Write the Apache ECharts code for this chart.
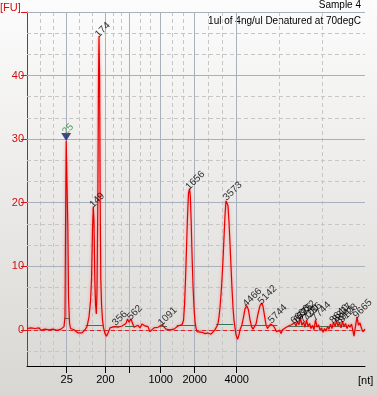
<!DOCTYPE html>
<html>
<head>
<meta charset="utf-8">
<title>Sample 4</title>
<script src="https://cdn.jsdelivr.net/npm/echarts@6/dist/echarts.min.js"></script>
<style>
    html, body { margin: 0; padding: 0; }
    #chart { width: 377px; height: 396px; }
</style>
</head>
<body>
<div id="chart"></div>
<script>
// migration time [s] and fluorescence [FU]
var traceTime = [19.00, 19.30, 19.60, 19.90, 20.20, 20.50, 20.80, 21.10, 21.40, 21.70, 22.00, 22.30, 22.60, 22.90,
    23.20, 23.50, 23.80, 24.10, 24.40, 24.55, 24.70, 24.78, 24.88, 25.00, 25.12, 25.23, 25.38, 25.53, 25.75, 26.05,
    26.35, 26.65, 26.95, 27.25, 27.55, 27.70, 28.00, 28.30, 28.53, 28.68, 28.83, 28.95, 29.05, 29.17, 29.28, 29.40,
    29.50, 29.62, 29.73, 29.80, 29.89, 29.98, 30.07, 30.18, 30.33, 30.48, 30.70, 30.93, 31.15, 31.45, 31.75, 32.05,
    32.35, 32.65, 32.95, 33.25, 33.55, 33.85, 34.08, 34.30, 34.60, 34.83, 35.05, 35.35, 35.65, 35.95, 36.25, 36.70,
    37.15, 37.45, 37.75, 38.05, 38.35, 38.65, 38.95, 39.25, 39.55, 39.85, 40.15, 40.45, 40.75, 41.05, 41.35, 41.65,
    41.95, 42.25, 42.48, 42.63, 42.78, 42.93, 43.08, 43.23, 43.38, 43.50, 43.63, 43.75, 43.90, 44.05, 44.20, 44.35,
    44.50, 44.80, 45.25, 45.70, 46.15, 46.60, 46.90, 47.20, 47.50, 47.65, 47.80, 47.95, 48.10, 48.25, 48.40, 48.55,
    48.70, 48.85, 49.00, 49.15, 49.30, 49.45, 49.60, 49.75, 49.90, 50.05, 50.20, 50.35, 50.58, 50.80, 50.95, 51.10,
    51.25, 51.48, 51.70, 51.96, 52.20, 52.45, 52.68, 52.90, 53.13, 53.35, 53.65, 53.95, 54.21, 54.40, 54.63, 54.85,
    55.08, 55.30, 55.53, 55.75, 55.98, 56.20, 56.43, 56.65, 56.88, 57.10, 57.33, 57.55, 57.78, 58.00, 58.23, 58.45,
    58.68, 58.90, 59.13, 59.35, 59.58, 59.80, 60.03, 60.25, 60.48, 60.70, 60.93, 61.15, 61.38, 61.60, 61.83, 62.05,
    62.28, 62.50, 62.73, 62.95, 63.18, 63.40, 63.63, 63.85, 64.08, 64.30, 64.53, 64.75, 64.98, 65.20, 65.43, 65.65,
    65.88, 66.10, 66.33, 66.55, 66.78, 67.00, 67.23, 67.45, 67.68, 67.90, 68.05, 68.28, 68.50, 68.73, 68.95, 69.18,
    69.40, 69.55, 69.70];
var traceFU = [0.2, 0.1, 0.3, 0.0, 0.2, 0.1, 0.3, -0.1, 0.2, 0.1, 0.3, 0.0, 0.2, 0.1,
    0.2, -0.1, 0.2, 0.1, 0.2, 0.5, 2.0, 16, 29.7, 29.5, 16.5, 5, 1, 0.2, -0.1, 0.0,
    -0.3, -0.5, -0.6, -0.5, -0.2, 0.0, 0.5, 2.0, 4.5, 8, 16, 19.4, 17, 8, 4, 2.5,
    6, 20, 40, 46.2, 40, 20, 8, 4, 1.5, 0.3, -0.6, -1.0, -0.5, 0.3, 0.2, 0.5,
    0.8, 0.4, 0.3, 0.6, 0.9, 1.0, 1.7, 1.2, 1.7, 1.6, 0.4, 0.2, 0.7, 0.3, 0.9, 0.6,
    0.5, -0.3, -0.2, 0.3, 0.1, 0.4, 0.3, 0.8, 0.6, 0.1, 0.3, 0.0, 0.2, 0.1, 0.4, 0.6,
    0.5, 0.8, 1.5, 4, 8, 13, 18, 21.5, 22.2, 21, 17, 12, 7, 3.5, 1.3, 0.3,
    -0.3, -0.5, -0.4, -0.6, -0.5, -0.7, -0.4, 0.0, 0.6, 1.0, 2, 3.5, 5.5, 8, 11, 14.5,
    18, 20.3, 20.5, 19.5, 17, 13.5, 10, 6.5, 3.5, 1.5, 0.3, -0.8, -1.5, -0.8, 0.0, 0.3,
    0.8, 2, 3.3, 3.8, 3.2, 1.6, 0.5, 0.1, 0.2, 0.9, 2.5, 3.8, 4.2, 3.7, 2.2, 0.8,
    0.2, 0.3, 0.9, 1.2, 0.6, 0.2, -0.3, -0.5, -0.1, -0.6, 0.0, -0.2, 0.3, 0.1, 0.6, 0.3,
    0.8, 0.5, 1.1, 0.6, 1.3, 0.8, 1.8, 0.7, 1.2, 0.4, 1.5, 0.5, 1.0, 0.2, 0.7, 0.0,
    1.6, 0.4, 0.8, -0.1, 0.3, -0.4, 0.2, -0.2, 0.5, 0.1, 0.9, 0.2, 1.2, 0.5, 1.4, 0.6,
    1.1, 0.3, 1.3, 0.5, 1.0, 0.2, 0.8, 0.4, 0.9, -0.2, -1.0, 0.6, 2.0, 0.7, 1.1, 0.2,
    -0.3, -0.6, 0.1];

// called peaks: time, height, size [nt]
var peakTime = [28.95, 29.80, 32.35, 34.60, 39.25, 43.38, 49.00, 51.96, 54.21, 55.75,
    59.13, 59.58, 60.03, 60.48, 60.93, 62.28, 64.98, 65.43, 65.88, 66.33, 68.50];
var peakFU = [19.4, 46.2, 0.8, 1.7, 0.8, 22.2, 20.5, 3.8, 4.2, 1.2,
    1.1, 1.3, 1.8, 1.2, 1.5, 1.6, 1.2, 1.4, 1.1, 1.3, 2.0];
var peakSize = ['149', '174', '356', '562', '1091', '1656', '3573', '4466', '5142', '5744',
    '6606', '6775', '6932', '7100', '7286', '7744', '8640', '8827', '8941', '9128', '9665'];

// lower marker
var markerTime = [24.88];
var markerFU = [29.7];
var markerSize = ['25'];

// peak integration baselines
var baseStart = [24.55, 27.80, 31.90, 33.70, 38.95, 41.45, 47.35, 51.10, 52.90, 55.20, 58.15, 61.75];
var baseEnd = [25.30, 30.45, 32.95, 35.20, 40.00, 44.30, 49.95, 52.90, 55.20, 56.55, 62.95, 67.00];
var baseLevel = [1.8, 0.7, 0.6, 0.6, 0.6, 0.7, 0.8, 0.7, 0.7, 0.7, 0.6, 0.6];

// ladder ticks
var xTickPos = [24.96, 30.75, 34.35, 39.06, 44.16, 50.46];
var xTickLabel = ['25', '200', '', '1000', '2000', '4000'];
var yTickPos = [0, 10, 20, 30, 40, 50];
var yTickLabel = ['0', '10', '20', '30', '40', ''];

(function (window, echarts) {
    "use strict";

    var FONT = '"Liberation Sans Narrow", "Liberation Sans", Arial, sans-serif';
    var xMin = 19, xMax = 69.7, yMin = -5.7, yMax = 50;

    var zip = function (xs, ys) {
        return xs.map(function (x, i) { return [x, ys[i]]; });
    };

    /**
     * 两条主网格线之间插两条虚线
     */
    var thirds = function (edges) {
        var out = [];
        for (var i = 0; i < edges.length - 1; i++) {
            var a = edges[i], b = edges[i + 1];
            out.push(a + (b - a) / 3, a + 2 * (b - a) / 3);
        }
        return out;
    };

    var lookup = function (pos, labels, v) {
        for (var i = 0; i < pos.length; i++) {
            if (Math.abs(pos[i] - v) < 1e-6) return labels[i];
        }
        return '';
    };

    var xMinor = thirds([xMin].concat(xTickPos, [xMax]));
    var yMinor = thirds([-10].concat(yTickPos)).filter(function (v) { return v > yMin; });

    var solidGrid = { color: '#a9b1bd', width: 1, type: 'solid' };
    var dashGrid = { color: '#c6c6c6', width: 1, type: [4, 3] };

    var gridLines = []
        .concat(xMinor.map(function (v) { return { xAxis: v, lineStyle: dashGrid }; }))
        .concat(yMinor.map(function (v) { return { yAxis: v, lineStyle: dashGrid }; }))
        .concat(xTickPos.map(function (v) { return { xAxis: v, lineStyle: solidGrid }; }))
        .concat(yTickPos.map(function (v) { return { yAxis: v, lineStyle: solidGrid }; }));

    var baseLines = baseStart.map(function (s, i) {
        return [{ coord: [s, baseLevel[i]] }, { coord: [baseEnd[i], baseLevel[i]] }];
    });

    var chart = echarts.init(document.getElementById('chart'));

    var option = {
        animation: false,
        backgroundColor: new echarts.graphic.LinearGradient(0, 0, 0, 1, [
            { offset: 0, color: '#fcfcfc' },
            { offset: 1, color: '#d9d7d3' }
        ]),
        grid: { left: 27, top: 12, right: 12, bottom: 30 },
        graphic: [
            { type: 'text', left: 0, top: 2, style: { text: '[FU]', fill: '#cc1111', font: '11px ' + FONT } },
            { type: 'text', left: 358, top: 375, style: { text: '[nt]', fill: '#000', font: '11px ' + FONT } },
            { type: 'text', right: 16, top: 0, style: { text: 'Sample 4', fill: '#000', font: '10px ' + FONT } },
            { type: 'text', right: 16, top: 16, style: { text: '1ul of 4ng/ul Denatured at 70degC', fill: '#000', font: '10px ' + FONT } }
        ],
        xAxis: {
            type: 'value',
            min: xMin,
            max: xMax,
            splitLine: { show: false },
            axisLine: { onZero: false, lineStyle: { color: '#000', width: 1 } },
            axisTick: { customValues: xTickPos, length: 7, lineStyle: { color: '#000' } },
            axisLabel: {
                customValues: xTickPos,
                margin: 8,
                color: '#000',
                fontSize: 11,
                fontFamily: FONT,
                formatter: function (v) { return lookup(xTickPos, xTickLabel, v); }
            }
        },
        yAxis: {
            type: 'value',
            min: yMin,
            max: yMax,
            splitLine: { show: false },
            axisLine: { show: true, onZero: false, lineStyle: { color: '#dd1111', width: 1 } },
            axisTick: { show: true, customValues: yTickPos, length: 6, lineStyle: { color: '#dd1111' } },
            axisLabel: {
                customValues: yTickPos,
                margin: 3,
                color: '#cc1111',
                fontSize: 11,
                fontFamily: FONT,
                formatter: function (v) { return lookup(yTickPos, yTickLabel, v); }
            }
        },
        series: [
            {
                // 网格
                type: 'line',
                data: [],
                z: 1,
                silent: true,
                markLine: { z: 1, silent: true, symbol: 'none', label: { show: false }, data: gridLines }
            },
            {
                // 峰基线 + 零线
                type: 'line',
                data: [],
                z: 2,
                silent: true,
                markLine: {
                    z: 2,
                    silent: true,
                    symbol: 'none',
                    label: { show: false },
                    lineStyle: { color: '#2f7a52', width: 1, type: 'solid' },
                    data: [[{ coord: [xMin, 0] }, { coord: [xMax, 0] }]].map(function (seg) {
                        seg[0].lineStyle = { color: '#e02020', type: [4, 3], width: 1 };
                        return seg;
                    }).concat(baseLines)
                }
            },
            {
                name: 'trace',
                type: 'line',
                z: 3,
                showSymbol: false,
                data: zip(traceTime, traceFU),
                lineStyle: {
                    color: '#e80000',
                    width: 1.2,
                    shadowColor: 'rgba(255,90,90,0.7)',
                    shadowBlur: 3
                }
            },
            {
                name: 'peaks',
                type: 'scatter',
                z: 4,
                symbolSize: 1,
                itemStyle: { color: 'rgba(0,0,0,0)' },
                data: zip(peakTime, peakFU),
                label: {
                    show: true,
                    position: 'top',
                    distance: 2,
                    rotate: 45,
                    align: 'left',
                    verticalAlign: 'middle',
                    offset: [-3, 0],
                    color: '#000',
                    fontSize: 10,
                    fontFamily: FONT,
                    formatter: function (p) { return peakSize[p.dataIndex]; }
                }
            },
            {
                name: 'marker',
                type: 'scatter',
                z: 5,
                symbol: 'triangle',
                symbolRotate: 180,
                symbolSize: [10, 8],
                symbolOffset: [0, -4],
                itemStyle: { color: '#1b1b6e' },
                data: zip(markerTime, markerFU),
                label: {
                    show: true,
                    position: 'top',
                    distance: 2,
                    rotate: 45,
                    align: 'left',
                    verticalAlign: 'middle',
                    offset: [-3, 0],
                    color: '#2a8a2a',
                    fontSize: 10,
                    fontFamily: FONT,
                    formatter: function (p) { return markerSize[p.dataIndex]; }
                }
            }
        ]
    };

    chart.setOption(option);

})(window, echarts);
</script>
</body>
</html>
